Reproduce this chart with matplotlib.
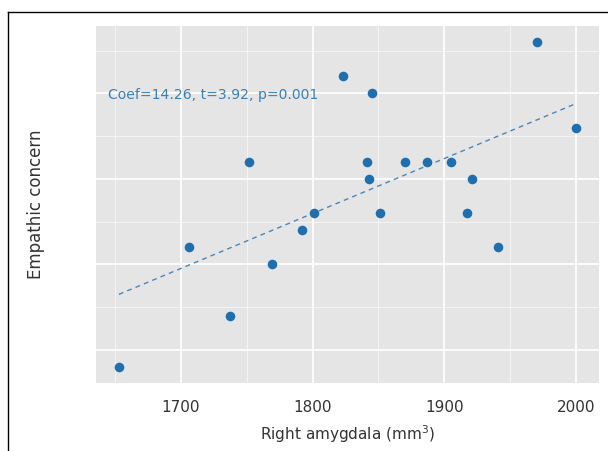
import numpy as np
import matplotlib
matplotlib.use("Agg")
import matplotlib.pyplot as plt
from matplotlib.lines import Line2D
from matplotlib.ticker import MultipleLocator, NullFormatter

# Data
amygdala = [1653, 1706, 1737, 1752, 1769, 1792, 1801, 1823, 1841, 1843,
            1845, 1851, 1870, 1887, 1905, 1917, 1921, 1941, 1970, 2000]
empathy = [9, 16, 12, 21, 15, 17, 18, 26, 21, 20,
           25, 18, 21, 21, 21, 18, 20, 16, 28, 23]
x_ticks = [1700, 1800, 1900, 2000]
annot = "Coef=14.26, t=3.92, p=0.001"

plt.rcParams['font.family'] = ['DejaVu Sans']

fig = plt.figure(figsize=(6.08, 4.51), dpi=100)
ax = fig.add_axes([96/608, (451-383)/451, (599-96)/608, (383-26)/451])

ax.set_facecolor('#e5e5e5')
for s in ax.spines.values():
    s.set_visible(False)

x = np.array(amygdala, dtype=float)
y = np.array(empathy, dtype=float)
ax.scatter(x, y, s=48, color='#1f6fae', zorder=3, linewidths=0)

slope, intercept = np.polyfit(x, y, 1)
xl = np.array([x.min(), x.max()])
ax.plot(xl, slope*xl + intercept, linestyle=(0, (3.5, 3)), color='#4a86b9',
        linewidth=1.0, zorder=2)

ax.set_xticks(x_ticks)
ax.xaxis.set_minor_locator(MultipleLocator(50))
ax.yaxis.set_major_locator(MultipleLocator(5))
ax.yaxis.set_minor_locator(MultipleLocator(2.5))
ax.yaxis.set_major_formatter(NullFormatter())
ax.grid(which='major', color='white', linewidth=1.2, zorder=0)
ax.grid(which='minor', color='white', linewidth=0.5, alpha=0.8, zorder=0)
ax.set_axisbelow(True)
ax.tick_params(which='both', length=0)
ax.tick_params(axis='x', labelsize=11, labelcolor='#333333', pad=12)

ax.set_xlabel("Right amygdala (mm$^3$)", fontsize=11, color='#333333', labelpad=6)
ax.set_ylabel("Empathic concern", fontsize=12, color='#333333', labelpad=33)

ax.text(0.024, 0.807, annot, transform=ax.transAxes, ha='left', va='center',
        fontsize=10.1, color='#3b7fb6')

# frame lines (top and left)
fig.add_artist(Line2D([8/608, 1.0], [1-12/451, 1-12/451], color='black', linewidth=1.0,
                      transform=fig.transFigure))
fig.add_artist(Line2D([8/608, 8/608], [0, 1-12/451], color='black', linewidth=1.0,
                      transform=fig.transFigure))

fig.savefig("out.png", dpi=100, facecolor='white')
